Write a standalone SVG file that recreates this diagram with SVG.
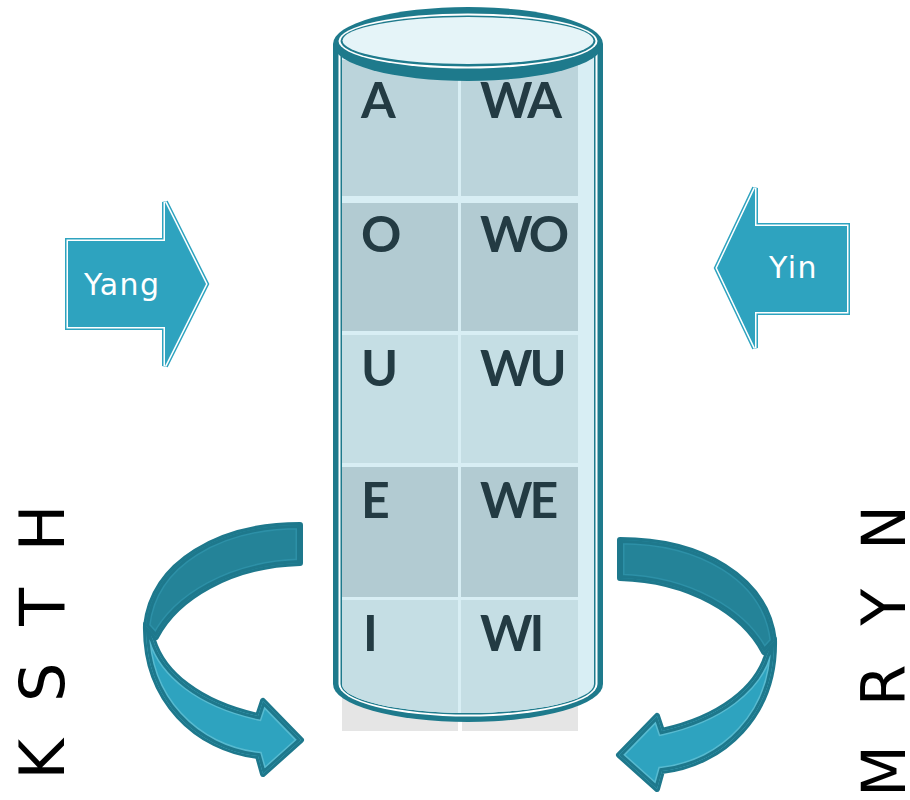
<svg xmlns="http://www.w3.org/2000/svg" width="910" height="800" viewBox="0 0 910 800">
  <style>
    .cell-text { font-family: Lato, "Open Sans", "DejaVu Sans", sans-serif; font-weight: 700; font-size: 50px; fill: #233b43; letter-spacing: -3px; }
    .side-text { font-family: "DejaVu Sans", "Liberation Sans", sans-serif; font-size: 62px; fill: #000; }
    .arrow-text { font-family: "DejaVu Sans", "Liberation Sans", sans-serif; font-size: 30px; fill: #fff; letter-spacing: 1.5px; }
    .flat-outer { fill: none; stroke: #2ea3bf; stroke-width: 6; stroke-linejoin: miter; }
    .flat-inner { fill: none; stroke: #ffffff; stroke-width: 3; stroke-linejoin: miter; }
    .flat-fill { fill: #2ea3bf; stroke: none; }
    .band-edge { fill: none; stroke: #1e788c; stroke-width: 6; stroke-linejoin: round; }
    .band-in-dark { fill: none; stroke: #1e788c; stroke-width: 6; }
    .band-line-dark { fill: none; stroke: #2d90a7; stroke-width: 9; }
    .band-line-light { fill: none; stroke: #57bad0; stroke-width: 9; }
    .band-dark { fill: #248398; stroke: none; }
    .band-light { fill: #2ea3bf; stroke: none; }
    .rim { fill: #1e7a8c; }
  </style>
  <defs>
    <clipPath id="body-clip">
      <path d="M342,44 L342,684 A126,29 0 0 0 594,684 L594,44 Z"/>
    </clipPath>
    <!-- curved ribbon arrow: upper (dark) half and lower (light) half with head -->
    <path id="ribbon-top" d="M300,525 C220,525 153,562 146,626 L156,637 C176,598 230,565 300,563 Z"/>
    <path id="ribbon-bottom" d="M146,624 C144,700 197,749 258,756 L263,774 L301,740 L263,701 L258,716 C199,703 163,673 153,640 Z"/>
    <clipPath id="clip-top"><use href="#ribbon-top"/></clipPath>
    <clipPath id="clip-bottom"><use href="#ribbon-bottom"/></clipPath>
    <polygon id="yang-shape" points="68,241 165,241 165,202 206,284 165,366 165,327 68,327"/>
    <polygon id="yin-shape" points="717,268 755,188 755,226 847,226 847,312 755,312 755,348"/>
  </defs>

  <!-- table cells that stick out below the cylinder -->
  <g id="table-base">
    <rect x="342" y="600" width="116" height="131" fill="#e5e5e5"/>
    <rect x="462" y="600" width="116" height="131" fill="#e5e5e5"/>
  </g>

  <!-- glass cylinder holding the vowel table -->
  <g id="node-cylinder">
    <path class="rim" d="M333,44 L333,684 A135,38 0 0 0 603,684 L603,44 Z"/>
    <path fill="#ffffff" d="M338.5,44 L338.5,684 A129.5,32.5 0 0 0 597.5,684 L597.5,44 Z"/>
    <path class="rim" d="M340.5,44 L340.5,684 A127.5,30.5 0 0 0 595.5,684 L595.5,44 Z"/>
    <path fill="#d8eef4" d="M342,44 L342,684 A126,29 0 0 0 594,684 L594,44 Z"/>
    <g clip-path="url(#body-clip)">
      <rect x="342" y="60" width="116" height="136" fill="#bbd4db"/>
      <rect x="461" y="60" width="117" height="136" fill="#bbd4db"/>
      <rect x="342" y="203" width="116" height="128" fill="#b2cbd2"/>
      <rect x="461" y="203" width="117" height="128" fill="#b2cbd2"/>
      <rect x="342" y="335" width="116" height="128" fill="#c5dee4"/>
      <rect x="461" y="335" width="117" height="128" fill="#c5dee4"/>
      <rect x="342" y="467" width="116" height="130" fill="#b2cbd2"/>
      <rect x="461" y="467" width="117" height="130" fill="#b2cbd2"/>
      <rect x="342" y="600" width="116" height="131" fill="#c5dee4"/>
      <rect x="461" y="600" width="117" height="131" fill="#c5dee4"/>
    </g>
    <g id="cylinder-lid">
      <ellipse class="rim" cx="468" cy="44" rx="135" ry="37"/>
      <ellipse fill="#ffffff" cx="468" cy="41" rx="129.5" ry="27.5"/>
      <ellipse class="rim" cx="468" cy="41" rx="127.5" ry="25.5"/>
      <ellipse fill="#e5f4f8" cx="468" cy="40.5" rx="125.5" ry="23.5"/>
    </g>
    <text class="cell-text" x="361" y="118">A</text>
    <text class="cell-text" x="480" y="118">WA</text>
    <text class="cell-text" x="361" y="252">O</text>
    <text class="cell-text" x="480" y="252">WO</text>
    <text class="cell-text" x="361" y="386">U</text>
    <text class="cell-text" x="480" y="386">WU</text>
    <text class="cell-text" x="361" y="518">E</text>
    <text class="cell-text" x="480" y="518">WE</text>
    <text class="cell-text" x="363" y="651">I</text>
    <text class="cell-text" x="480" y="651">WI</text>
  </g>

  <!-- Yang block arrow -->
  <g id="node-yang">
    <use href="#yang-shape" class="flat-outer"/>
    <use href="#yang-shape" class="flat-inner"/>
    <use href="#yang-shape" class="flat-fill"/>
    <text class="arrow-text" x="84" y="295">Yang</text>
  </g>

  <!-- Yin block arrow -->
  <g id="node-yin">
    <use href="#yin-shape" class="flat-outer"/>
    <use href="#yin-shape" class="flat-inner"/>
    <use href="#yin-shape" class="flat-fill"/>
    <text class="arrow-text" x="769" y="278">Yin</text>
  </g>

  <!-- consonant columns -->
  <g id="node-consonants-left">
    <text class="side-text" transform="translate(64,642) rotate(-90)" text-anchor="middle" textLength="275" lengthAdjust="spacing">K S T H</text>
  </g>
  <g id="node-consonants-right">
    <text class="side-text" style="font-size:60px" transform="translate(905,651) rotate(-90)" text-anchor="middle" textLength="292" lengthAdjust="spacing">M R Y N</text>
  </g>

  <!-- circular ribbon arrows -->
  <g id="connectors">
    <g id="cycle-left">
      <use href="#ribbon-bottom" class="band-edge"/>
      <g clip-path="url(#clip-bottom)">
        <use href="#ribbon-bottom" class="band-light"/>
        <use href="#ribbon-bottom" class="band-line-light"/>
        <use href="#ribbon-bottom" class="band-in-dark"/>
      </g>
      <use href="#ribbon-top" class="band-edge"/>
      <g clip-path="url(#clip-top)">
        <use href="#ribbon-top" class="band-dark"/>
        <use href="#ribbon-top" class="band-line-dark"/>
        <use href="#ribbon-top" class="band-in-dark"/>
      </g>
    </g>
    <g id="cycle-right" transform="translate(920,15) scale(-1,1)">
      <use href="#ribbon-bottom" class="band-edge"/>
      <g clip-path="url(#clip-bottom)">
        <use href="#ribbon-bottom" class="band-light"/>
        <use href="#ribbon-bottom" class="band-line-light"/>
        <use href="#ribbon-bottom" class="band-in-dark"/>
      </g>
      <use href="#ribbon-top" class="band-edge"/>
      <g clip-path="url(#clip-top)">
        <use href="#ribbon-top" class="band-dark"/>
        <use href="#ribbon-top" class="band-line-dark"/>
        <use href="#ribbon-top" class="band-in-dark"/>
      </g>
    </g>
  </g>
</svg>
